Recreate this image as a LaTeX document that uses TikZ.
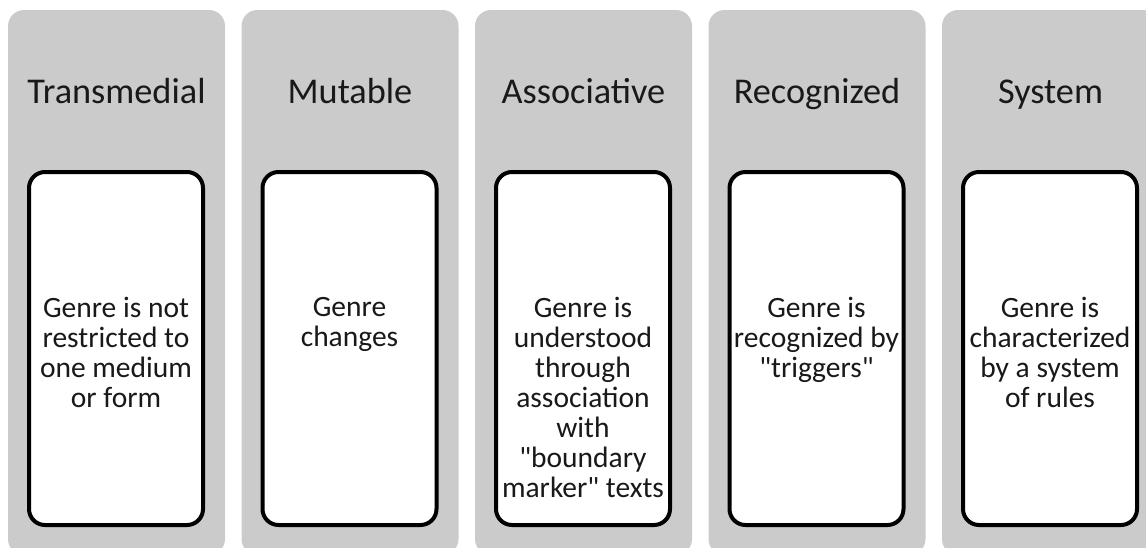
\documentclass[tikz,border=0pt]{standalone}
\usepackage{fontspec}
\setmainfont{Carlito}[Ligatures=TeXOff]
\begin{document}
\begin{tikzpicture}[x=1pt,y=-1pt,
  col/.style={fill=colgray,draw=none,rounded corners=16pt},
  card/.style={draw=black,line width=4pt,fill=white,rounded corners=16pt},
  ttl/.style={font=\fontsize{36.3}{40}\selectfont,text=black!90,anchor=base,inner sep=0pt},
  body/.style={font=\fontsize{29.5}{30}\selectfont,text=black!90,align=center,anchor=north,inner sep=0pt}]
\definecolor{colgray}{HTML}{CBCBCB}
\useasboundingbox (0,0) rectangle (1146,547);
\clip (0,0) rectangle (1146,547);
\foreach \i/\t/\b in {0/Transmedial/{Genre is not\\restricted to\\one medium\\or form},
                      1/Mutable/{Genre\\changes},
                      2/Associative/{Genre is\\understood\\through\\association\\with\\"boundary\\marker" texts},
                      3/Recognized/{Genre is\\recognized by\\"triggers"},
                      4/System/{Genre is\\characterized\\by a system\\of rules}}{
  \pgfmathsetmacro{\xa}{8+233.5*\i}
  \path[col] (\xa,10) rectangle ++(217,545);
  \node[ttl] (t\i) at (\xa+108.5,103) {\t};
  \path[card] (\xa+21,172) rectangle ++(174,353);
  \node[body] (b\i) at (\xa+108,297) {\b};
}
\end{tikzpicture}
\end{document}
